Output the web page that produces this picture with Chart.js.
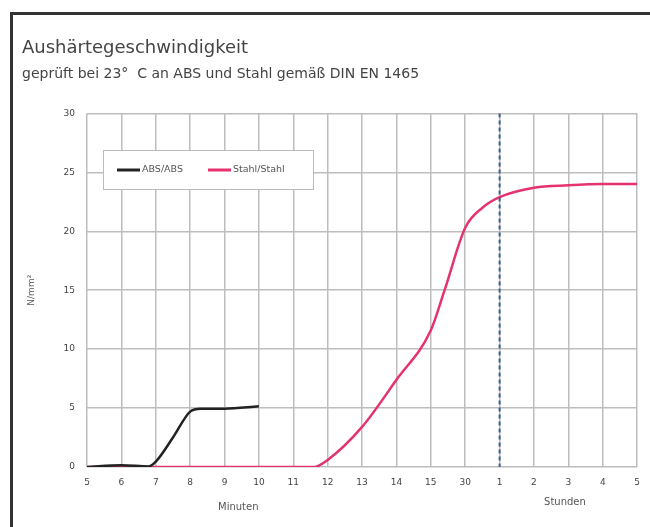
<!DOCTYPE html>
<html>
<head>
<meta charset="utf-8">
<style>
  html, body { margin: 0; padding: 0; background: #fff; }
  #wrap { width: 650px; height: 527px; }
</style>
<script src="https://cdn.jsdelivr.net/npm/chart.js@4/dist/chart.umd.min.js"></script>
</head>
<body>
<div id="wrap"><canvas id="cureChart" width="650" height="527"></canvas></div>
<script>
  // --- Data ---
  // x positions are slots on the bottom axis (0 = "5" Minuten ... 16 = "5" Stunden)
  const tickLabels = ['5', '6', '7', '8', '9', '10', '11', '12', '13', '14', '15', '30', '1', '2', '3', '4', '5'];

  const absX = [0, 1, 1.8, 2, 2.5, 3, 3.3, 4, 5];
  const absY = [0, 0.15, 0.05, 0.45, 2.5, 4.7, 4.95, 4.95, 5.15];

  const stahlX = [0, 2, 4, 6, 6.6, 7, 8, 9, 10, 10.4, 11, 11.5, 12, 13, 14, 15, 16];
  const stahlY = [0, 0, 0, 0, 0, 0.6, 3.4, 7.4, 11.6, 15, 20.3, 22, 22.9, 23.7, 23.9, 24, 24];

  const hourMark = 12; // dashed divider between Minuten and Stunden

  const toPoints = (xs, ys) => xs.map((x, i) => ({ x: x, y: ys[i] }));

  // --- Frame, divider line, legend and axis captions ---
  const legendSlots = [117, 208];

  const decorPlugin = {
    id: 'decor',
    beforeDraw(chart) {
      const ctx = chart.ctx;
      ctx.save();
      ctx.fillStyle = '#fff';
      ctx.fillRect(0, 0, chart.width, chart.height);
      ctx.strokeStyle = '#333';
      ctx.lineWidth = 3;
      ctx.beginPath();
      ctx.moveTo(11.5, chart.height);
      ctx.lineTo(11.5, 13.5);
      ctx.lineTo(chart.width, 13.5);
      ctx.stroke();
      ctx.restore();
    },
    afterDatasetsDraw(chart) {
      const ctx = chart.ctx;
      const x = chart.scales.x;
      const area = chart.chartArea;

      // dashed divider
      const px = x.getPixelForValue(hourMark);
      ctx.save();
      ctx.strokeStyle = '#3d5f8f';
      ctx.lineWidth = 2;
      ctx.setLineDash([4, 3]);
      ctx.beginPath();
      ctx.moveTo(px, area.top);
      ctx.lineTo(px, area.bottom);
      ctx.stroke();
      ctx.restore();

      // legend box inside the plot
      ctx.save();
      ctx.fillStyle = '#fff';
      ctx.fillRect(103, 150, 210, 39);
      ctx.strokeStyle = '#bbb';
      ctx.lineWidth = 1;
      ctx.strokeRect(103.5, 150.5, 210, 39);
      ctx.font = '9.5px "DejaVu Sans"';
      ctx.textBaseline = 'middle';
      chart.data.datasets.forEach((ds, i) => {
        const lx = legendSlots[i];
        ctx.strokeStyle = ds.borderColor;
        ctx.lineWidth = 3;
        ctx.beginPath();
        ctx.moveTo(lx, 170);
        ctx.lineTo(lx + 23, 170);
        ctx.stroke();
        ctx.fillStyle = '#555';
        ctx.fillText(ds.label, lx + 25, 170);
      });

      // axis captions
      ctx.fillStyle = '#555';
      ctx.font = '10px "DejaVu Sans"';
      ctx.textAlign = 'center';
      ctx.fillText('Minuten', x.getPixelForValue(4.4), 507);
      ctx.fillText('Stunden', x.getPixelForValue(13.9), 502);
      ctx.restore();
    }
  };

  const ctx = document.getElementById('cureChart').getContext('2d');
  new Chart(ctx, {
    type: 'line',
    data: {
      datasets: [
        {
          label: 'ABS/ABS',
          data: toPoints(absX, absY),
          borderColor: '#222',
          borderWidth: 2.5,
          pointRadius: 0,
          cubicInterpolationMode: 'monotone'
        },
        {
          label: 'Stahl/Stahl',
          data: toPoints(stahlX, stahlY),
          borderColor: '#e6336f',
          borderWidth: 2.5,
          pointRadius: 0,
          cubicInterpolationMode: 'monotone'
        }
      ]
    },
    options: {
      responsive: false,
      animation: false,
      layout: { padding: { left: 22, right: 12, top: 0, bottom: 0 } },
      plugins: {
        legend: { display: false },
        tooltip: { enabled: false },
        title: {
          display: true,
          text: 'Aushärtegeschwindigkeit',
          align: 'start',
          color: '#444',
          font: { family: 'DejaVu Sans', size: 18, weight: 'normal' },
          padding: { top: 38, bottom: 4 }
        },
        subtitle: {
          display: true,
          text: 'geprüft bei 23°  C an ABS und Stahl gemäß DIN EN 1465',
          align: 'start',
          color: '#444',
          font: { family: 'DejaVu Sans', size: 14 },
          padding: { top: 2, bottom: 31 }
        }
      },
      scales: {
        x: {
          type: 'linear',
          min: 0,
          max: tickLabels.length - 1,
          grid: { color: '#bdbdbd', lineWidth: 1.5, drawTicks: false },
          border: { display: false },
          ticks: {
            stepSize: 1,
            autoSkip: false,
            maxRotation: 0,
            padding: 10,
            color: '#444',
            font: { family: 'DejaVu Sans', size: 9 },
            callback: v => tickLabels[v]
          },
          afterFit: s => { s.height = 60; }
        },
        y: {
          min: 0,
          max: 30,
          grid: { color: '#bdbdbd', lineWidth: 1.5, drawTicks: false },
          border: { display: false },
          ticks: {
            stepSize: 5,
            padding: 12,
            color: '#444',
            font: { family: 'DejaVu Sans', size: 9 }
          },
          title: {
            display: true,
            text: 'N/mm²',
            color: '#555',
            font: { family: 'DejaVu Sans', size: 9 }
          },
          afterFit: s => { s.width = 65; }
        }
      }
    },
    plugins: [decorPlugin]
  });
</script>
</body>
</html>
